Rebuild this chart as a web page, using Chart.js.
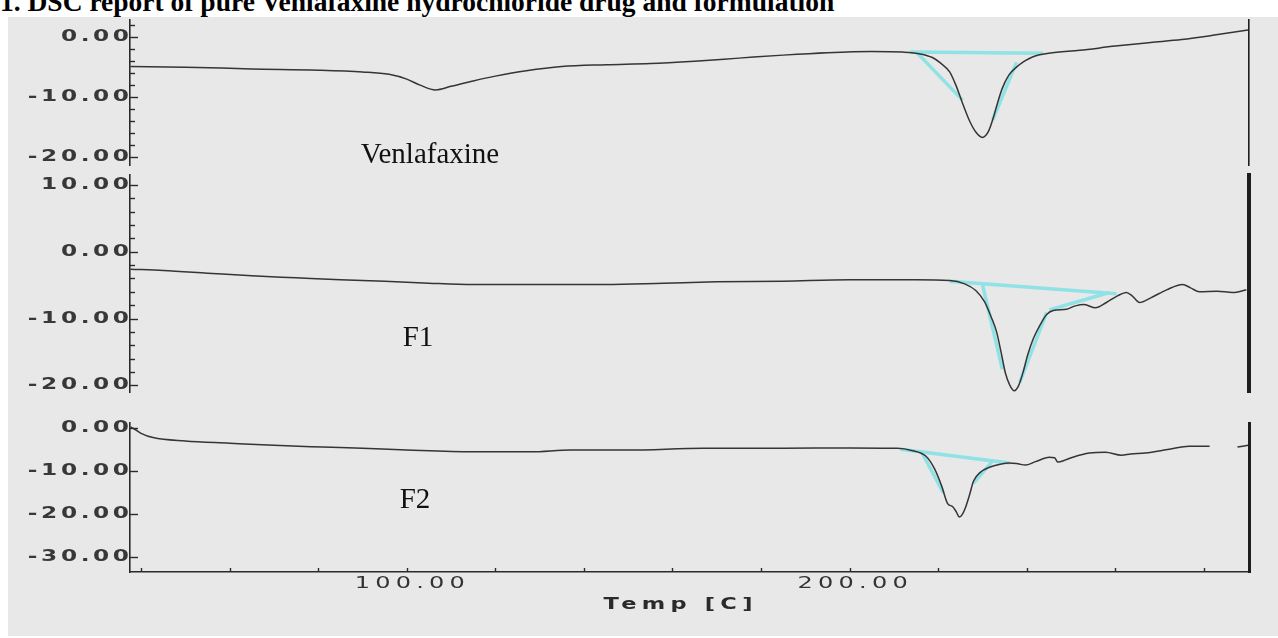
<!DOCTYPE html>
<html>
<head>
<meta charset="utf-8">
<script src="https://cdn.jsdelivr.net/npm/chart.js@4.4.0/dist/chart.umd.min.js"></script>
<style>
  html, body { margin: 0; padding: 0; background: #fff; width: 1278px; height: 638px; overflow: hidden; }
  #sheet { position: absolute; left: 8px; top: 17px; width: 1270px; height: 619px; background: #e8e8e8; }
  #title { position: absolute; left: 0; top: -12px; font: bold 27.5px/27px "Liberation Serif", "Times New Roman", serif; color: #000; white-space: nowrap; }
  canvas { position: absolute; left: 0; }
</style>
</head>
<body>
<div id="sheet"></div>
<div id="title">1. DSC report of pure Venlafaxine hydrochloride drug and formulation</div>
<canvas id="p1" width="1278" height="165" style="top:10px"></canvas>
<canvas id="p2" width="1278" height="237" style="top:165px"></canvas>
<canvas id="p3" width="1278" height="209" style="top:413px"></canvas>
<script>
// Temperature axis (°C)
const tempRange = [37.5, 290.2];
const tempTickStep = 20;
const tempLabels = [100, 200];

// Heat flow, pure Venlafaxine
const vTemp = [37.6, 50, 65, 80, 90, 96, 100, 103, 106.5, 110, 115, 120, 127, 135, 145, 155, 165, 175, 185, 195, 205,
  212, 216, 218.7, 220.5, 222.6, 224, 225.5, 227, 228.5, 230, 231.3, 232.3, 233.4, 234.5, 236, 237.7, 239.5, 241.3,
  245, 252, 260, 268, 275, 282, 290];
const vHeat = [-4.9, -5.0, -5.3, -5.5, -5.8, -6.2, -7.0, -8.0, -8.8, -8.2, -7.3, -6.5, -5.6, -4.9, -4.6, -4.4, -4.0, -3.5, -3.0, -2.6, -2.4,
  -2.5, -2.8, -3.4, -4.3, -5.8, -8.0, -11.0, -13.8, -15.8, -16.7, -15.8, -13.8, -11.0, -8.5, -6.3, -5.0, -4.0, -3.3,
  -2.7, -2.2, -1.5, -0.9, -0.4, 0.3, 1.2];
// Peak evaluation lines (baseline and tangents), null separates segments
const vFitTemp = [213.7, 243.7, null, 215.1, 225.5, null, 232.3, 237.7];
const vFitHeat = [-2.5, -2.67, null, -2.5, -10.5, null, -13.8, -4.2];

// Heat flow, formulation F1
const f1Temp = [37.6, 45, 55, 65, 75, 85, 95, 105, 115, 130, 145, 158, 170, 185, 200, 215, 222.6, 226, 228.5, 230.5,
  232, 233.2, 234.2, 235.2, 236.2, 237.2, 238.2, 239.2, 240.2, 241.5, 243, 244.5, 246, 249, 251, 253, 255.5, 258,
  260.5, 262.5, 263.8, 265.5, 268, 271.6, 275.2, 277, 279, 283, 286.5, 289.6];
const f1Heat = [-2.6, -2.8, -3.2, -3.6, -3.9, -4.2, -4.4, -4.7, -4.9, -4.9, -4.9, -4.7, -4.5, -4.4, -4.2, -4.2, -4.3, -4.8, -5.8, -7.5,
  -9.8, -12.0, -15.0, -18.2, -20.0, -20.8, -20.0, -18.0, -15.5, -13.0, -11.0, -9.4, -8.8, -8.6, -8.1, -7.9, -8.4, -7.6,
  -6.6, -6.1, -6.6, -7.6, -6.9, -5.7, -4.9, -5.4, -6.0, -5.9, -6.1, -5.7];
const f1FitTemp = [222.6, 260.3, null, 245.1, 258.7, null, 230, 234.5, null, 244.5, 238.4];
const f1FitHeat = [-4.4, -6.3, null, -8.7, -6.1, null, -4.9, -17.6, null, -9.1, -19.6];

// Heat flow, formulation F2
const f2Temp = [37.6, 38.5, 40, 42.7, 50, 60, 70, 81, 90, 100, 115, 128, 137, 150, 167, 185, 200, 210.8, 214, 217.2,
  219.2, 220.8, 222.1, 223.3, 224.1, 224.8, 225.5, 226.2, 227.1, 228, 229.5, 231.6, 234, 236.1, 238, 239.7, 242, 245.1,
  246.3, 247, 249, 250.6, 254.2, 257.8, 261.4, 263.5, 266.8, 272.2, 276.7, 281.3, null, 287.6, 290];
const f2Heat = [0.3, -0.2, -1.2, -2.2, -3.0, -3.5, -4.0, -4.4, -4.7, -5.1, -5.5, -5.5, -5.1, -5.1, -4.7, -4.7, -4.6, -4.7, -5.2, -6.5,
  -9.5, -13.5, -17.5, -18.3, -19.5, -20.7, -20.0, -18.4, -15.5, -12.3, -10.3, -9.1, -8.4, -8.1, -8.3, -8.6, -7.8, -6.8,
  -6.9, -7.9, -7.3, -6.7, -5.8, -5.6, -6.3, -6.0, -5.8, -4.9, -4.2, -4.2, null, -4.4, -4.0];
const f2FitTemp = [211.5, 236.1, null, 216.3, 221.2, null, 232.5, 228];
const f2FitHeat = [-4.9, -8.1, null, -5.6, -15.1, null, -7.4, -12.8];

// Heat flow tick labels for each panel
const p1Labels = [0, -10, -20];
const p2Labels = [10, 0, -10, -20];
const p3Labels = [0, -10, -20, -30];

function toPoints(xs, ys) {
  let last = xs[0];
  return xs.map((t, i) => {
    if (t === null) return { x: last, y: null };
    last = t;
    return { x: t, y: ys[i] };
  });
}

// Text drawn with a horizontal stretch, like the instrument printout
function stretchText(ctx, text, x, y, align, st) {
  ctx.save();
  ctx.font = st.font;
  ctx.fillStyle = st.color;
  const hasSpacing = 'letterSpacing' in ctx;
  if (hasSpacing) ctx.letterSpacing = st.spacing + 'px';
  ctx.textBaseline = 'middle';
  ctx.textAlign = 'left';
  const w = (ctx.measureText(text).width - (hasSpacing ? st.spacing : 0)) * st.sx;
  const x0 = align === 'right' ? x - w : align === 'center' ? x - w / 2 : x;
  ctx.translate(x0, y);
  ctx.scale(st.sx, 1);
  ctx.fillText(text, 0, 0);
  ctx.restore();
}

const yLabelStyle = { font: 'bold 16px "DejaVu Sans", Verdana, sans-serif', color: '#383838', sx: 1.45, spacing: 2.5 };
const xLabelStyle = { font: '16px "DejaVu Sans", Verdana, sans-serif', color: '#333', sx: 1.5, spacing: 3.5 };
const xTitleStyle = { font: 'bold 15px "DejaVu Sans", Verdana, sans-serif', color: '#2a2a2a', sx: 1.5, spacing: 3.5 };

const dscAxes = {
  id: 'dscAxes',
  afterDraw(chart, args, o) {
    const { ctx, chartArea: a, scales: { x, y } } = chart;
    ctx.save();
    ctx.strokeStyle = '#2a2a2a';
    ctx.lineWidth = 1.4;
    // inward ticks on the heat-flow axis
    const start = Math.ceil(y.min / o.minorStep) * o.minorStep;
    for (let v = start; v <= y.max + 1e-9; v += o.minorStep) {
      const major = Math.abs(v / 10 - Math.round(v / 10)) < 1e-6;
      const py = Math.round(y.getPixelForValue(v)) + 0.5;
      ctx.beginPath();
      ctx.moveTo(a.left, py);
      ctx.lineTo(a.left + (major ? 8 : 5), py);
      ctx.stroke();
    }
    o.labels.forEach(v => stretchText(ctx, v.toFixed(2), a.left - 1, y.getPixelForValue(v), 'right', yLabelStyle));
    // temperature axis
    if (o.showTemp) {
      for (let t = Math.ceil(x.min / tempTickStep) * tempTickStep; t <= x.max; t += tempTickStep) {
        const px = Math.round(x.getPixelForValue(t)) + 0.5;
        ctx.beginPath();
        ctx.moveTo(px, a.bottom);
        ctx.lineTo(px, a.bottom - 4);
        ctx.stroke();
      }
      tempLabels.forEach(t => stretchText(ctx, t.toFixed(2), x.getPixelForValue(t) + 3, a.bottom + 12, 'center', xLabelStyle));
      stretchText(ctx, 'Temp [C]', 678, a.bottom + 33, 'center', xTitleStyle);
    }
    // sample name
    ctx.font = '29px "Liberation Serif", "Times New Roman", serif';
    ctx.fillStyle = '#111';
    ctx.textAlign = 'center';
    ctx.textBaseline = 'middle';
    ctx.fillText(o.name, o.nameX, o.nameY);
    ctx.restore();
  }
};

function panel(id, curve, fit, yMin, yMax, o) {
  const last = !!o.showTemp;
  const xAxis = {
    type: 'linear', min: tempRange[0], max: tempRange[1], display: last,
    grid: { display: false }, ticks: { display: false },
    border: { display: true, color: '#2a2a2a', width: 1.6 }
  };
  if (last) xAxis.afterFit = s => { s.height = 50; };
  return new Chart(document.getElementById(id), {
    type: 'line',
    data: {
      datasets: [
        { data: curve, borderColor: '#353535', borderWidth: 1.5, pointRadius: 0, cubicInterpolationMode: 'monotone', spanGaps: false },
        { data: fit, borderColor: 'rgba(70, 220, 225, 0.55)', borderWidth: 3.5, pointRadius: 0, tension: 0, spanGaps: false }
      ]
    },
    options: {
      responsive: false,
      animation: false,
      devicePixelRatio: 1,
      layout: { padding: { top: 10, bottom: last ? 0 : 10, left: 0, right: 0 } },
      plugins: { legend: { display: false }, tooltip: { enabled: false }, dscAxes: o },
      scales: {
        x: xAxis,
        y: {
          type: 'linear', position: 'left', min: yMin, max: yMax,
          grid: { display: false }, ticks: { display: false },
          border: { display: true, color: '#2a2a2a', width: 1.6 },
          afterFit(s) { s.width = 130; }
        },
        yr: {
          type: 'linear', position: 'right',
          grid: { display: false }, ticks: { display: false },
          border: { display: true, color: '#1e1e1e', width: o.rightWidth },
          afterFit(s) { s.width = 29; }
        }
      }
    },
    plugins: [dscAxes]
  });
}

panel('p1', toPoints(vTemp, vHeat), toPoints(vFitTemp, vFitHeat), -21.3, 2.85,
  { labels: p1Labels, minorStep: 2, name: 'Venlafaxine', nameX: 430, nameY: 145, rightWidth: 1.6 });
panel('p2', toPoints(f1Temp, f1Heat), toPoints(f1FitTemp, f1FitHeat), -21.0, 11.5,
  { labels: p2Labels, minorStep: 2, name: 'F1', nameX: 418, nameY: 173, rightWidth: 4 });
panel('p3', toPoints(f2Temp, f2Heat), toPoints(f2FitTemp, f2FitHeat), -33.5, 1.2,
  { labels: p3Labels, minorStep: 10, name: 'F2', nameX: 415, nameY: 87, rightWidth: 3, showTemp: true });
</script>
</body>
</html>
